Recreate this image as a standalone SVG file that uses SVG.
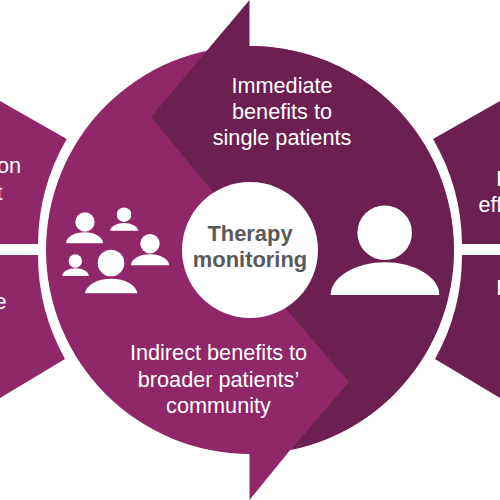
<svg xmlns="http://www.w3.org/2000/svg" width="500" height="500" viewBox="0 0 500 500">
<style>
.p{fill:#8f2768}.d{fill:#6b2050}.w{fill:#fff}
text{font-family:"Liberation Sans",Arial,sans-serif;font-size:21.700px;fill:#fff;text-anchor:middle}
.c{font-weight:bold;fill:#58595b;font-size:21.900px}
.e{text-anchor:start}.s{text-anchor:end}
</style>
<rect width="500" height="500" fill="#fff"/>
<g id="left-top"><path class="p" d="M0 101L66.700 139A213 213 0 0 0 38 244H0Z"/><text class="s" x="21" y="173">on</text><text class="s" x="2.500" y="200">t</text></g>
<g id="left-bottom"><path class="p" d="M0 398L65 359A213 213 0 0 1 38 255H0Z"/><text class="s" x="6.500" y="309">e</text></g>
<g id="right-top"><path class="d" d="M500 101L433 139A213 213 0 0 1 462 244H500Z"/><text class="e" x="496" y="186">I</text><text class="e" x="478.500" y="212">eff</text></g>
<g id="right-bottom"><path class="d" d="M500 398L435 359A213 213 0 0 0 462 255H500Z"/><text class="e" x="496" y="295">I</text></g>
<g id="community"><circle class="p" cx="250" cy="250" r="204"/><path class="p" d="M249.500 450L291 449L249.500 500Z"/></g>
<g id="single"><path class="d" d="M249.500 0V46A204 204 0 0 1 291 449.800L349 382L287 310L213 192L151 117Z"/></g>
<g id="center"><circle class="w" cx="250" cy="250" r="68"/><text class="c" x="250" y="241">Therapy</text><text class="c" x="250" y="267">monitoring</text></g>
<g id="label-single"><text x="282" y="92.500">Immediate</text><text x="282" y="118.500">benefits to</text><text x="282" y="145">single patients</text></g>
<g id="label-community"><text x="218.500" y="360">Indirect benefits to</text><text x="218.500" y="386.500">broader patients’</text><text x="218.500" y="412.500">community</text></g>
<g id="people" class="w">
<circle cx="85" cy="222" r="9.700"/><path d="M66 243.300A18.500 11 0 0 1 103 243.300Z"/>
<circle cx="124" cy="214.700" r="7.300"/><path d="M110 230.700A14.200 8.500 0 0 1 138.300 230.700Z"/>
<circle cx="150" cy="243.700" r="9.700"/><path d="M131 265.300A19 11 0 0 1 169 265.300Z"/>
<circle cx="75.300" cy="261" r="6.700"/><path d="M62.300 276A13.200 7.700 0 0 1 88.700 276Z"/>
<circle cx="111" cy="263" r="13.300"/><path d="M85 293.300A26.200 15.600 0 0 1 137.300 293.300Z"/>
</g>
<g id="person" class="w"><circle cx="384.700" cy="232.700" r="27.300"/><path d="M330.700 295A54.300 32.700 0 0 1 439.300 295Z"/></g>
</svg>
